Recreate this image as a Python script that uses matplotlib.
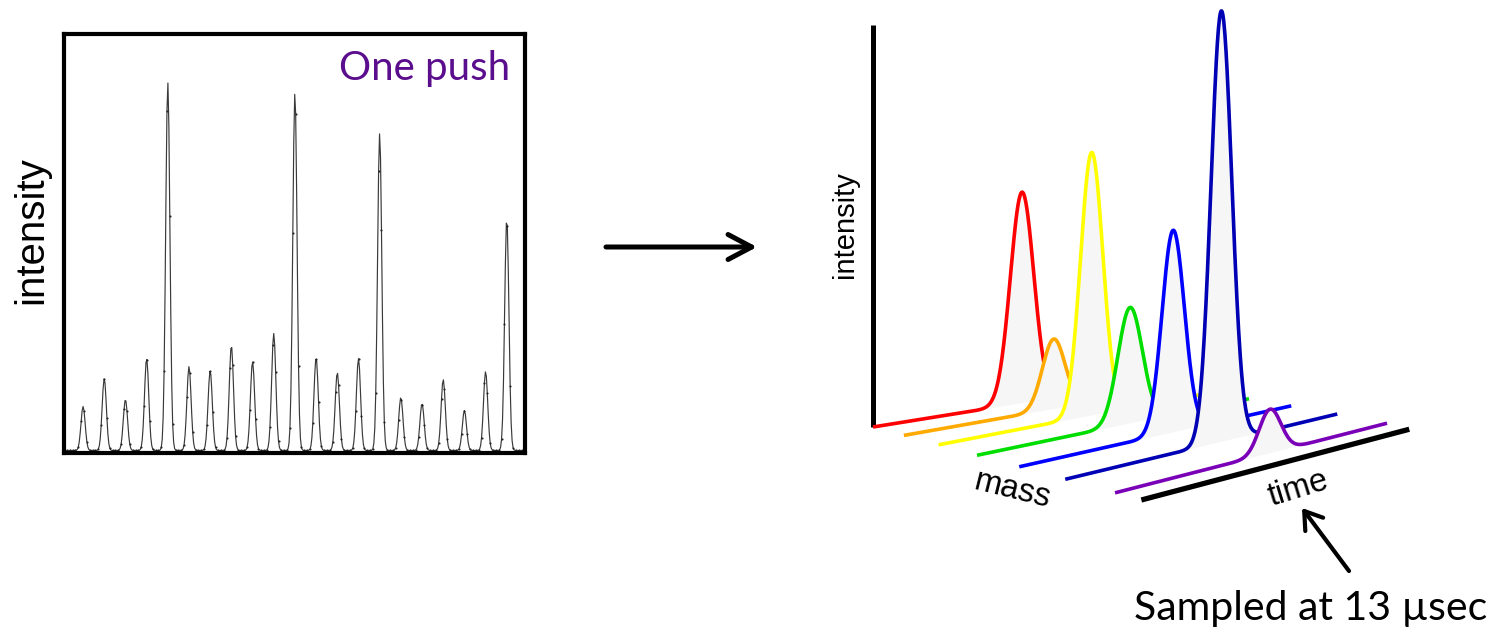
import numpy as np
import matplotlib
matplotlib.use("Agg")
import matplotlib.pyplot as plt

W, H = 1494, 627

# left panel: one push spectrum, peak heights
spec_mass = [0, 1, 2, 3, 4, 5, 6, 7, 8, 9, 10, 11, 12, 13, 14, 15, 16, 17, 18, 19, 20]
spec_height = [44, 72, 51, 92, 368, 84, 80, 105, 89, 117, 358,
               93, 78, 92, 317, 53, 47, 71, 40, 79, 232]
spec_width = 0.1

# right panel: one trace per mass channel, peak along time
trace_colors = ["#ff0000", "#ffaa00", "#ffff00", "#00dd00", "#0000ff", "#0000b4", "#7a00b8"]
peak_time = [54.8, 55.1, 56.3, 56.3, 56.6, 57.4, 57.0]
peak_height = [211, 70, 263, 116, 202, 431, 44]
peak_width = [4.3, 4.2, 4.1, 4.5, 4.1, 3.8, 4.0]
time_span = 100

# pseudo 3d projection into pixels
X0, Y0 = 873, 427
PX_PER_T = 2.72


def project(t, k, inten):
    s = 29.0 * k + 1.89 * k ** 2
    x = X0 + s + PX_PER_T * t
    y = Y0 + 0.272 * s - (0.16 + 0.016 * k) * PX_PER_T * t - inten
    return x, y


fig = plt.figure(figsize=(W / 100, H / 100), dpi=100)

# ---- left spectrum ----
ax = fig.add_axes([64 / W, 1 - 453 / H, 461 / W, 419 / H])
xs = np.arange(-0.9, 20.86, 0.045)
ys = np.zeros_like(xs)
for m, h in zip(spec_mass, spec_height):
    ys += h * np.exp(-(xs - m) ** 2 / (2 * spec_width ** 2))
ax.plot(xs, ys, color="#3a3a3a", lw=0.85)
ax.plot(xs[::3], ys[::3], "o", color="#222222", ms=1.5, mec="none")
ax.set_xlim(-0.9, 20.86)
ax.set_ylim(-2.5, 416.5)
ax.set_xticks([])
ax.set_yticks([])
for sp in ax.spines.values():
    sp.set_linewidth(3)

fig.text(31 / W, 1 - 230 / H, "intensity", rotation=90, ha="center", va="center",
         fontsize=29, family="Liberation Sans")
fig.text(510 / W, 1 - 80 / H, "One push", ha="right", va="baseline",
         fontsize=29, family="Lato", color="#5a0d8c")

# ---- overlay in pixel coordinates ----
ax2 = fig.add_axes([0, 0, 1, 1])
ax2.set_xlim(0, W)
ax2.set_ylim(H, 0)
ax2.axis("off")

# big arrow in the middle
ax2.annotate("", xy=(757, 247), xytext=(606, 247),
             arrowprops=dict(arrowstyle="->,head_length=0.85,head_width=0.45",
                             lw=3.6, color="black", mutation_scale=20,
                             shrinkA=0, shrinkB=0))

# intensity axis
vx, vy = project(np.zeros(2), 0, np.array([0, 402]))
ax2.plot(vx, vy, color="black", lw=3.6, solid_capstyle="butt", zorder=1)

# traces, back (red) to front (purple)
t = np.linspace(0, time_span, 500)
for k, (c, tp, h, w) in enumerate(zip(trace_colors, peak_time, peak_height, peak_width)):
    inten = h * np.exp(-(t - tp) ** 2 / (2 * w ** 2))
    cx, cy = project(t, k, inten)
    bx, by = project(t, k, np.zeros_like(t))
    ax2.fill(np.concatenate([cx, bx[::-1]]), np.concatenate([cy, by[::-1]]),
             color="#f6f6f6", lw=0, zorder=2 + 2 * k)
    ax2.plot(cx, cy, color=c, lw=2.6, solid_capstyle="butt", zorder=3 + 2 * k)

# time axis
tx, ty = project(np.array([0, 98.5]), 6.5, np.zeros(2))
ax2.plot(tx, ty, color="black", lw=3.8, solid_capstyle="butt", zorder=20)

ax2.text(845, 225, "intensity", rotation=90, ha="center", va="center",
         fontsize=21, family="Liberation Sans")
ax2.text(1013, 490, "mass", rotation=-14, ha="center", va="center",
         rotation_mode="anchor", fontsize=23.5, family="Liberation Sans")
ax2.text(1298, 489, "time", rotation=17, ha="center", va="center",
         rotation_mode="anchor", fontsize=23.5, family="Liberation Sans")

ax2.annotate("", xy=(1302, 508), xytext=(1349, 571),
             arrowprops=dict(arrowstyle="->,head_length=0.6,head_width=0.4",
                             lw=3, color="black", mutation_scale=20,
                             shrinkA=0, shrinkB=0))
ax2.text(1311, 620, "Sampled at 13 µsec", ha="center", va="baseline",
         fontsize=29.5, family="Lato")

fig.savefig("out.png", dpi=100)
